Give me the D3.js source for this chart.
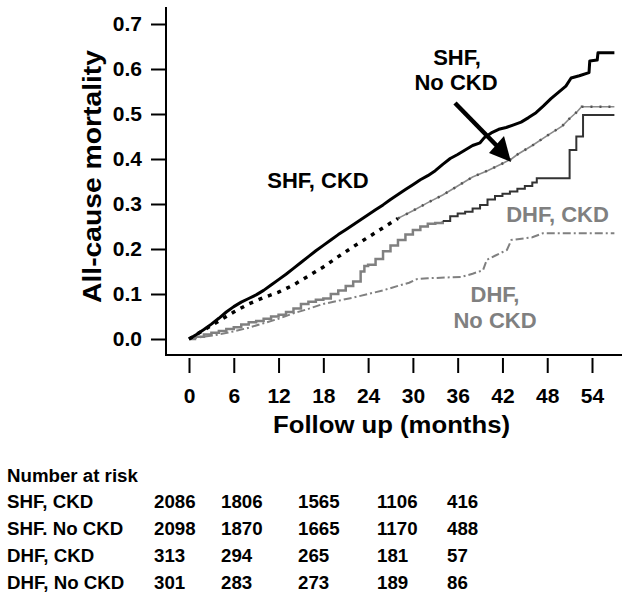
<!DOCTYPE html>
<html>
<head>
<meta charset="utf-8">
<script src="https://cdn.jsdelivr.net/npm/d3@7"></script>
<style>
  html, body { margin: 0; padding: 0; background: #fff; }
  svg { display: block; font-family: "Liberation Sans", Arial, Helvetica, sans-serif; font-weight: bold; }
</style>
</head>
<body>
<svg id="chart" width="622" height="601"></svg>
<script>
// ---------------- DATA ----------------
const xTicks = [0, 6, 12, 18, 24, 30, 36, 42, 48, 54];
const yTicks = [0, 0.1, 0.2, 0.3, 0.4, 0.5, 0.6, 0.7];

// [month, cumulative mortality]
const shfCkd = [
  [0,0],[1,0.01],[2,0.021],[3,0.033],[4,0.046],[5,0.06],[6,0.072],[7,0.082],[8,0.09],[9,0.098],
  [10,0.108],[11,0.12],[12,0.132],[13,0.144],[14,0.157],[15,0.17],[16,0.183],[17,0.196],[18,0.208],
  [19,0.22],[20,0.232],[21,0.243],[22,0.254],[23,0.265],[24,0.276],[25,0.287],[26,0.298],[27,0.31],
  [28,0.321],[29,0.332],[30,0.343],[31,0.354],[32,0.363],[33,0.374],[34,0.388],[35,0.401],[36,0.41],
  [37,0.42],[38,0.43],[39,0.436],[39.6,0.448],[40.5,0.458],[41.5,0.466],[42.5,0.47],[43.5,0.476],
  [44.5,0.482],[45.5,0.492],[46.5,0.503],[47.5,0.518],[48.5,0.534],[49.5,0.548],[50.5,0.562],
  [51.2,0.58],[52.3,0.585],[53.6,0.592],[53.7,0.618],[54.7,0.62],[54.8,0.636],[57,0.636]
];
const shfNoCkd = [
  [0,0],[2,0.02],[4,0.04],[6,0.06],[8,0.078],[10,0.092],[12,0.104],[14,0.12],[16,0.14],[18,0.16],
  [20,0.183],[22,0.205],[24,0.226],[26,0.247],[28,0.268],[30,0.285],[32,0.303],[34,0.32],[36,0.34],
  [38,0.36],[40,0.374],[42,0.39],[43.2,0.4],[44,0.41],[46,0.43],[48,0.452],[50,0.473],[51,0.49],
  [52,0.505],[52.6,0.516],[57,0.516]
];
const dhfCkd = [
  [0,0],[0.8,0.005],[2,0.01],[3,0.014],[4,0.018],[5,0.022],[6,0.026],[7,0.032],[8,0.037],[9,0.04],
  [10,0.045],[11,0.05],[12,0.054],[13,0.06],[14,0.068],[15,0.078],[16,0.083],[17,0.087],[18,0.09],
  [19,0.1],[20,0.108],[21,0.118],[22,0.128],[23,0.15],[23.5,0.162],[24,0.165],[25,0.178],[26,0.195],
  [27,0.208],[28,0.22],[29,0.232],[30,0.242],[31,0.25],[32,0.256],[33,0.258],[34,0.262],[35,0.273],
  [36,0.279],[37,0.283],[38,0.29],[39,0.298],[40,0.31],[41,0.318],[42,0.323],[43,0.328],[44,0.334],
  [45,0.34],[46,0.348],[46.6,0.357],[51,0.42],[51.9,0.45],[52.8,0.498],[57,0.498]
];
const dhfNoCkd = [
  [0,0],[2,0.005],[4,0.01],[6,0.017],[8,0.025],[10,0.035],[12,0.045],[14,0.057],[16,0.067],[18,0.078],
  [20,0.085],[22,0.092],[24,0.1],[26,0.108],[28,0.118],[29.5,0.125],[30.5,0.133],[32,0.135],
  [36.5,0.138],[38,0.145],[39.4,0.153],[39.9,0.176],[41,0.185],[42.6,0.198],[43.2,0.22],[46,0.226],
  [47.4,0.235],[57,0.235]
];

const riskTitle = "Number at risk";
const riskGroups = ["SHF, CKD", "SHF. No CKD", "DHF, CKD", "DHF, No CKD"];
const riskShfCkd   = [2086, 1806, 1565, 1106, 416];
const riskShfNoCkd = [2098, 1870, 1665, 1170, 488];
const riskDhfCkd   = [313, 294, 265, 181, 57];
const riskDhfNoCkd = [301, 283, 273, 189, 86];

// ---------------- LAYOUT ----------------
const svg = d3.select("#chart");
const x = d3.scaleLinear().domain([0, 54]).range([189, 592]);
const y = d3.scaleLinear().domain([0, 0.7]).range([339, 24]);
const axisX = 166, axisYLine = 355;
const gray = "#808080";

// axis lines
svg.append("line").attr("x1", axisX).attr("x2", axisX).attr("y1", 7).attr("y2", axisYLine + 1)
  .attr("stroke", "#000").attr("stroke-width", 2);
svg.append("line").attr("x1", axisX - 1).attr("x2", 622).attr("y1", axisYLine).attr("y2", axisYLine)
  .attr("stroke", "#000").attr("stroke-width", 2);

// y axis
const gy = svg.append("g").attr("transform", `translate(${axisX},0)`)
  .call(d3.axisLeft(y).tickValues(yTicks).tickFormat(d3.format(".1f")).tickSize(15).tickPadding(9));
gy.select(".domain").remove();
gy.selectAll(".tick line").attr("stroke", "#000").attr("stroke-width", 2);
gy.selectAll(".tick text").attr("font-size", 21).attr("font-family", null).attr("fill", "#000")
  .attr("font-weight", "bold");

// x axis (ticks detached below baseline)
const gx = svg.append("g").attr("transform", `translate(0,358)`)
  .call(d3.axisBottom(x).tickValues(xTicks).tickSize(15).tickPadding(15));
gx.select(".domain").remove();
gx.selectAll(".tick line").attr("stroke", "#000").attr("stroke-width", 2);
gx.selectAll(".tick text").attr("font-size", 21).attr("font-family", null).attr("fill", "#000")
  .attr("font-weight", "bold");

// axis titles
svg.append("text").attr("x", 391.5).attr("y", 433).attr("text-anchor", "middle")
  .attr("font-size", 23).attr("textLength", 237).attr("lengthAdjust", "spacingAndGlyphs")
  .text("Follow up (months)");
svg.append("text").attr("transform", "translate(101,176.5) rotate(-90)").attr("text-anchor", "middle")
  .attr("font-size", 25).attr("textLength", 253).attr("lengthAdjust", "spacingAndGlyphs")
  .text("All-cause mortality");

// ---------------- CURVES ----------------
const stepLine = d3.line().x(d => x(d[0])).y(d => y(d[1])).curve(d3.curveStepAfter);
const smoothLine = d3.line().x(d => x(d[0])).y(d => y(d[1]));

// DHF, No CKD - gray dash-dot
svg.append("path").attr("d", smoothLine(dhfNoCkd)).attr("fill", "none")
  .attr("stroke", gray).attr("stroke-width", 2).attr("stroke-dasharray", "8,3,2,3");

// DHF, CKD - gray then dark
const dhfSplit = 34;
svg.append("path").attr("d", stepLine(dhfCkd.filter(d => d[0] <= dhfSplit))).attr("fill", "none")
  .attr("stroke", gray).attr("stroke-width", 2.5);
svg.append("path").attr("d", stepLine(dhfCkd.filter(d => d[0] >= dhfSplit))).attr("fill", "none")
  .attr("stroke", "#333").attr("stroke-width", 2);

// SHF, No CKD - black dotted then gray
const shfSplit = 28;
svg.append("path").attr("d", smoothLine(shfNoCkd.filter(d => d[0] <= shfSplit))).attr("fill", "none")
  .attr("stroke", "#000").attr("stroke-width", 3.5).attr("stroke-dasharray", "4,6");
const shfLate = shfNoCkd.filter(d => d[0] >= shfSplit);
svg.append("path").attr("d", smoothLine(shfLate)).attr("fill", "none")
  .attr("stroke", "#8a8a8a").attr("stroke-width", 1.6);
svg.append("path").attr("d", smoothLine(shfLate)).attr("fill", "none")
  .attr("stroke", "#555").attr("stroke-width", 2.5).attr("stroke-dasharray", "2,7");

// SHF, CKD - black solid
svg.append("path").attr("d", smoothLine(shfCkd)).attr("fill", "none")
  .attr("stroke", "#000").attr("stroke-width", 3).attr("stroke-linejoin", "round");

// ---------------- ANNOTATIONS ----------------
svg.append("text").attr("x", 318).attr("y", 188).attr("text-anchor", "middle").attr("font-size", 22)
  .text("SHF, CKD");
svg.append("text").attr("x", 457).attr("y", 65).attr("text-anchor", "middle").attr("font-size", 22)
  .text("SHF,");
svg.append("text").attr("x", 456).attr("y", 90).attr("text-anchor", "middle").attr("font-size", 22)
  .text("No CKD");
svg.append("text").attr("x", 557.5).attr("y", 221.5).attr("text-anchor", "middle").attr("font-size", 22)
  .attr("fill", gray).text("DHF, CKD");
svg.append("text").attr("x", 495).attr("y", 302).attr("text-anchor", "middle").attr("font-size", 22)
  .attr("fill", gray).text("DHF,");
svg.append("text").attr("x", 495).attr("y", 328).attr("text-anchor", "middle").attr("font-size", 22)
  .attr("fill", gray).text("No CKD");

// arrow
svg.append("line").attr("x1", 455).attr("y1", 103).attr("x2", 498).attr("y2", 147)
  .attr("stroke", "#000").attr("stroke-width", 4.5);
svg.append("path").attr("d", "M489,153 L504,136 L511,162 Z").attr("fill", "#000");

// ---------------- NUMBER AT RISK ----------------
const riskRows = [riskShfCkd, riskShfNoCkd, riskDhfCkd, riskDhfNoCkd];
const colX = [154, 221, 298, 377, 447];
const rowY = [508, 535, 562, 589];
svg.append("text").attr("x", 7).attr("y", 481.5).attr("font-size", 18.7).text(riskTitle);
riskGroups.forEach((g, i) => {
  svg.append("text").attr("x", 7).attr("y", rowY[i]).attr("font-size", 18.7).text(g);
  riskRows[i].forEach((v, j) => {
    svg.append("text").attr("x", colX[j]).attr("y", rowY[i]).attr("font-size", 18.7).text(v);
  });
});
</script>
</body>
</html>
